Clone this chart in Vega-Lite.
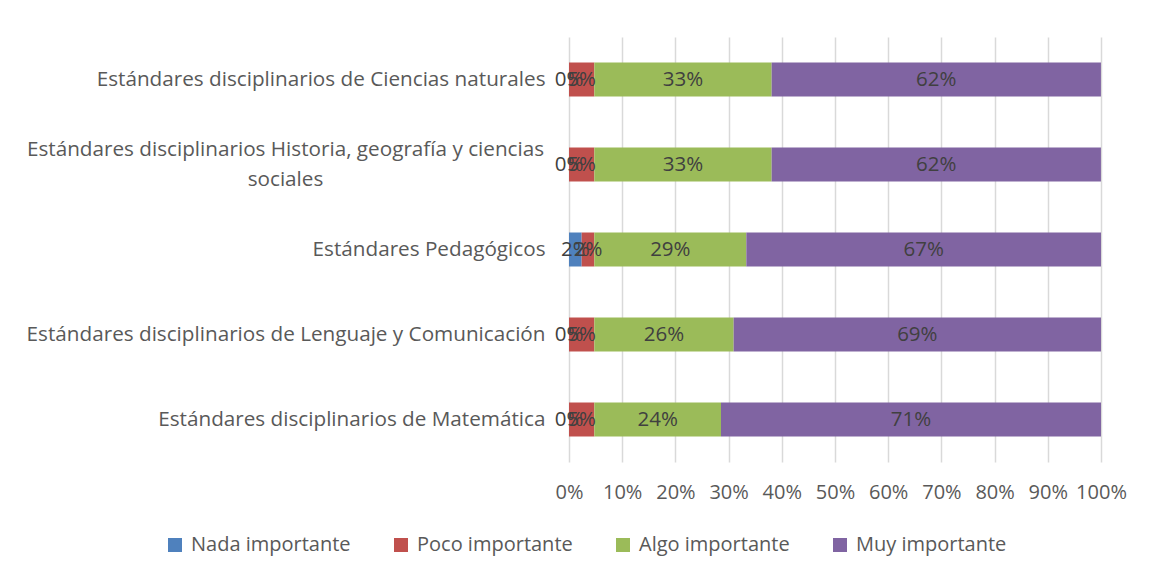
{
  "$schema": "https://vega.github.io/schema/vega-lite/v6.json",
  "autosize": {"type": "none"},
  "width": 532,
  "height": 425,
  "padding": {"left": 569, "top": 37, "right": 48, "bottom": 118},
  "background": "white",
  "config": {
    "font": "Open Sans",
    "view": {"stroke": null},
    "axis": {"labelFont": "Open Sans", "labelFontSize": 20, "labelColor": "#595959", "domain": false, "ticks": false, "title": null}
  },
  "data": {"values": [
    {"cat": "Estándares disciplinarios de Ciencias naturales", "resp": "Nada importante", "ord": 1, "v": 0},
    {"cat": "Estándares disciplinarios de Ciencias naturales", "resp": "Poco importante", "ord": 2, "v": 4.76},
    {"cat": "Estándares disciplinarios de Ciencias naturales", "resp": "Algo importante", "ord": 3, "v": 33.33},
    {"cat": "Estándares disciplinarios de Ciencias naturales", "resp": "Muy importante", "ord": 4, "v": 61.9},
    {"cat": "Estándares disciplinarios Historia, geografía y ciencias sociales", "resp": "Nada importante", "ord": 1, "v": 0},
    {"cat": "Estándares disciplinarios Historia, geografía y ciencias sociales", "resp": "Poco importante", "ord": 2, "v": 4.76},
    {"cat": "Estándares disciplinarios Historia, geografía y ciencias sociales", "resp": "Algo importante", "ord": 3, "v": 33.33},
    {"cat": "Estándares disciplinarios Historia, geografía y ciencias sociales", "resp": "Muy importante", "ord": 4, "v": 61.9},
    {"cat": "Estándares Pedagógicos", "resp": "Nada importante", "ord": 1, "v": 2.38},
    {"cat": "Estándares Pedagógicos", "resp": "Poco importante", "ord": 2, "v": 2.38},
    {"cat": "Estándares Pedagógicos", "resp": "Algo importante", "ord": 3, "v": 28.57},
    {"cat": "Estándares Pedagógicos", "resp": "Muy importante", "ord": 4, "v": 66.67},
    {"cat": "Estándares disciplinarios de Lenguaje y Comunicación", "resp": "Nada importante", "ord": 1, "v": 0},
    {"cat": "Estándares disciplinarios de Lenguaje y Comunicación", "resp": "Poco importante", "ord": 2, "v": 4.76},
    {"cat": "Estándares disciplinarios de Lenguaje y Comunicación", "resp": "Algo importante", "ord": 3, "v": 26.19},
    {"cat": "Estándares disciplinarios de Lenguaje y Comunicación", "resp": "Muy importante", "ord": 4, "v": 69.05},
    {"cat": "Estándares disciplinarios de Matemática", "resp": "Nada importante", "ord": 1, "v": 0},
    {"cat": "Estándares disciplinarios de Matemática", "resp": "Poco importante", "ord": 2, "v": 4.76},
    {"cat": "Estándares disciplinarios de Matemática", "resp": "Algo importante", "ord": 3, "v": 23.81},
    {"cat": "Estándares disciplinarios de Matemática", "resp": "Muy importante", "ord": 4, "v": 71.43}
  ]},
  "transform": [
    {"stack": "v", "groupby": ["cat"], "sort": [{"field": "ord", "order": "ascending"}], "as": ["x0", "x1"]},
    {"calculate": "(datum.x0 + datum.x1) / 2", "as": "mid"},
    {"calculate": "format(datum.v / 100, '.0%')", "as": "lbl"}
  ],
  "encoding": {
    "y": {
      "field": "cat", "type": "nominal",
      "sort": ["Estándares disciplinarios de Ciencias naturales", "Estándares disciplinarios Historia, geografía y ciencias sociales", "Estándares Pedagógicos", "Estándares disciplinarios de Lenguaje y Comunicación", "Estándares disciplinarios de Matemática"],
      "scale": {"paddingInner": 0.6, "paddingOuter": 0.3},
      "axis": {
        "labelFont": "Open Sans", "labelFontSize": 20.7,
        "labelLimit": 700, "labelLineHeight": 30, "grid": false,
        "labelPadding": {"condition": {"test": "indexof(datum.value, 'Historia') >= 0", "value": 284}, "value": 24},
        "labelAlign": {"condition": {"test": "indexof(datum.value, 'Historia') >= 0", "value": "center"}, "value": "right"},
        "labelOffset": {"condition": {"test": "indexof(datum.value, 'Historia') >= 0", "value": -15}, "value": 0},
        "labelExpr": "indexof(datum.label, 'Historia') >= 0 ? ['Estándares disciplinarios Historia, geografía y ciencias', 'sociales'] : datum.label"
      }
    }
  },
  "layer": [
    {
      "mark": {"type": "bar"},
      "encoding": {
        "x": {
          "field": "x0", "type": "quantitative",
          "scale": {"domain": [0, 100], "nice": false},
          "axis": {"values": [0,10,20,30,40,50,60,70,80,90,100], "labelExpr": "datum.value + '%'", "labelOverlap": false, "labelFlush": false, "labelFontSize": 20, "grid": true, "gridColor": "#d9d9d9", "gridWidth": 1.5, "labelPadding": 20}
        },
        "x2": {"field": "x1"},
        "color": {
          "field": "resp", "type": "nominal",
          "scale": {"domain": ["Nada importante", "Poco importante", "Algo importante", "Muy importante"], "range": ["#4f81bd", "#c0504d", "#9bbb59", "#8064a2"]},
          "legend": {
            "title": null, "orient": "none", "direction": "horizontal", "columns": 4,
            "legendX": -404, "legendY": 498,
            "symbolType": "square", "symbolSize": 196, "symbolStrokeWidth": 0,
            "labelFont": "Open Sans", "labelFontSize": 20, "labelColor": "#595959",
            "labelOffset": 6, "columnPadding": 40, "labelLimit": 300
          }
        }
      }
    },
    {
      "mark": {"type": "text", "font": "Open Sans", "fontSize": 20.5, "color": "#404040", "baseline": "middle", "align": "center"},
      "encoding": {
        "x": {"field": "mid", "type": "quantitative"},
        "text": {"field": "lbl"}
      }
    }
  ]
}
